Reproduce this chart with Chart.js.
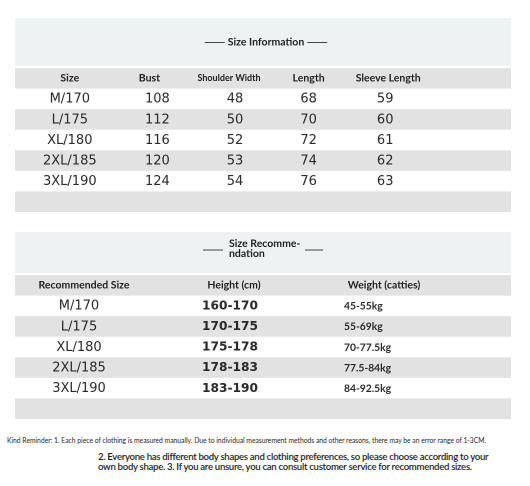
<!DOCTYPE html>
<html><head><meta charset="utf-8">
<script src="https://cdn.jsdelivr.net/npm/chart.js@4.4.1/dist/chart.umd.min.js"></script>
<style>
html,body{margin:0;padding:0;background:#fff;width:530px;height:486px;overflow:hidden;}
#w1{position:absolute;left:0;top:0;width:530px;height:220px;}
#w2{position:absolute;left:0;top:220px;width:530px;height:205px;}
.note{position:absolute;font-family:Lato,'Open Sans',sans-serif;color:#1e1e1e;white-space:nowrap;}
#n1{left:7px;top:436px;font-size:6.75px;line-height:8px;}
#n2{left:98px;top:452px;font-size:9.6px;line-height:10px;font-weight:600;letter-spacing:-0.3px;}
</style></head><body>
<div id="w1"><canvas id="c1"></canvas></div>
<div id="w2"><canvas id="c2"></canvas></div>
<div class="note" id="n1">Kind Reminder: 1. Each piece of clothing is measured manually. Due to individual measurement methods and other reasons, there may be an error range of 1-3CM.</div>
<div class="note" id="n2">2. Everyone has different body shapes and clothing preferences, so please choose according to your<br>own body shape. 3. If you are unsure, you can consult customer service for recommended sizes.</div>
<script>
// ---- data ----
const infoTitle = ['Size Information'];
const infoColumns = ['Size', 'Bust', 'Shoulder Width', 'Length', 'Sleeve Length'];
const sizes = ['M/170', 'L/175', 'XL/180', '2XL/185', '3XL/190'];
const bust = [108, 112, 116, 120, 124];
const shoulder = [48, 50, 52, 53, 54];
const lengths = [68, 70, 72, 74, 76];
const sleeve = [59, 60, 61, 62, 63];

const recTitle = ['Size Recomme-', 'ndation'];
const recColumns = ['Recommended Size', 'Height (cm)', 'Weight (catties)'];
const recSizes = ['M/170', 'L/175', 'XL/180', '2XL/185', '3XL/190'];
const heightRanges = ['160-170', '170-175', '175-178', '178-183', '183-190'];
const weightRanges = ['45-55kg', '55-69kg', '70-77.5kg', '77.5-84kg', '84-92.5kg'];

// ---- styles ----
const GRAY = '#e2e2e2', PANEL = '#edf2f2', TXT = '#2a2a2a';
const BAND_L = 15, BAND_R = 511;

function tablePlugin(title, columns, cols, colStyles, headFonts, panelH) {
  return {
    id: 'tbl',
    beforeDraw(chart) {
      const ctx = chart.ctx, ys = chart.scales.y;
      const bh = ys.getPixelForValue(1) - ys.getPixelForValue(0);
      const n = ys.getLabels().length;
      ctx.save();
      ctx.fillStyle = PANEL;
      ctx.fillRect(BAND_L, ys.top - panelH - 2, BAND_R - BAND_L, panelH);
      for (let i = 0; i < n; i++) {
        if (i % 2 === 0) {
          ctx.fillStyle = GRAY;
          ctx.fillRect(BAND_L, ys.getPixelForValue(i) - bh / 2, BAND_R - BAND_L, bh);
        }
      }
      ctx.restore();
    },
    afterDraw(chart) {
      const ctx = chart.ctx, xs = chart.scales.x, ys = chart.scales.y;
      ctx.save();
      ctx.textBaseline = 'middle';
      const cx = (BAND_L + BAND_R) / 2 + 3;
      const tyc = ys.top - 2 - panelH / 2;
      ctx.fillStyle = '#222';
      ctx.font = 'bold 10.5px Lato';
      ctx.strokeStyle = '#444';
      ctx.lineWidth = 1;
      if (title.length === 1) {
        ctx.textAlign = 'center';
        ctx.fillText(title[0], cx, tyc);
        const w = ctx.measureText(title[0]).width;
        ctx.beginPath();
        ctx.moveTo(cx - w / 2 - 23, tyc + 0.5); ctx.lineTo(cx - w / 2 - 3, tyc + 0.5);
        ctx.moveTo(cx + w / 2 + 3, tyc + 0.5); ctx.lineTo(cx + w / 2 + 23, tyc + 0.5);
        ctx.stroke();
      } else {
        ctx.textAlign = 'left';
        const lx = cx - 37;
        ctx.fillText(title[0], lx, tyc - 9);
        ctx.fillText(title[1], lx, tyc + 1);
        ctx.beginPath();
        ctx.moveTo(203, tyc - 2.5); ctx.lineTo(223, tyc - 2.5);
        ctx.moveTo(305, tyc - 2.5); ctx.lineTo(323, tyc - 2.5);
        ctx.stroke();
      }
      columns.forEach((c, j) => {
        ctx.textAlign = 'center';
        ctx.fillStyle = '#222';
        ctx.font = headFonts[j];
        ctx.fillText(c, xs.getPixelForValue(j), ys.getPixelForValue(0));
      });
      cols.forEach((arr, j) => {
        const st = colStyles[j];
        ctx.font = st.font;
        ctx.fillStyle = TXT;
        ctx.textAlign = st.align;
        arr.forEach((v, i) => {
          ctx.fillText(String(v), xs.getPixelForValue(j) + st.dx, ys.getPixelForValue(i + 1) + 0.5);
        });
      });
      ctx.restore();
    }
  };
}

function makeChart(id, columns, rowLabels, padding, plugin) {
  return new Chart(document.getElementById(id), {
    type: 'scatter',
    data: { datasets: [] },
    options: {
      responsive: true, maintainAspectRatio: false, animation: false,
      devicePixelRatio: 2,
      layout: { padding },
      plugins: { legend: { display: false }, tooltip: { enabled: false } },
      scales: {
        x: { type: 'category', labels: columns, offset: true, display: false },
        y: { type: 'category', labels: rowLabels, offset: true, display: false }
      }
    },
    plugins: [plugin]
  });
}

const DATA_FONT = '13px "DejaVu Sans"';
makeChart('c1', infoColumns, ['header', ...sizes, ''],
  { left: 30, right: 102, top: 68, bottom: 8 },
  tablePlugin(infoTitle, infoColumns, [sizes, bust, shoulder, lengths, sleeve],
    [{ font: DATA_FONT, align: 'center', dx: 0 }, { font: DATA_FONT, align: 'center', dx: 8 },
     { font: DATA_FONT, align: 'center', dx: 6 }, { font: DATA_FONT, align: 'center', dx: 0 },
     { font: DATA_FONT, align: 'center', dx: -3 }],
    ['bold 10.5px Lato', 'bold 10.5px Lato', 'bold 9px Lato', 'bold 10.5px Lato', 'bold 10.5px Lato'], 48));

makeChart('c2', recColumns, ['header', ...recSizes, ''],
  { left: 9, right: 71, top: 55, bottom: 6 },
  tablePlugin(recTitle, recColumns, [recSizes, heightRanges, weightRanges],
    [{ font: DATA_FONT, align: 'center', dx: -5 }, { font: 'bold 12.2px "DejaVu Sans"', align: 'center', dx: -4 },
     { font: 'bold 10.3px Lato', align: 'left', dx: -40 }],
    ['bold 10.5px Lato', 'bold 10.5px Lato', 'bold 10.5px Lato'], 41));
</script>
</body></html>
